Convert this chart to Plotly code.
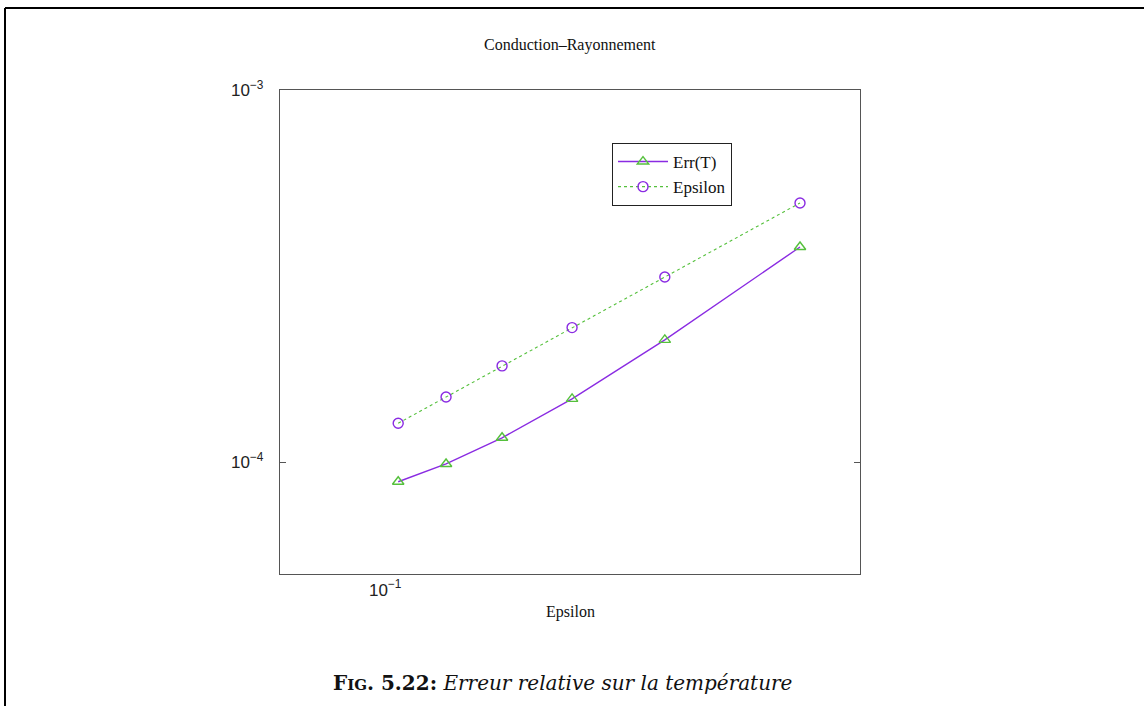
import plotly.graph_objects as go

# ---- data ----
epsilon = [0.1045, 0.1229, 0.1486, 0.1884, 0.258, 0.408]
err_T = [8.85e-5, 9.88e-5, 1.162e-4, 1.478e-4, 2.13e-4, 3.784e-4]
eps_curve = [1.271e-4, 1.496e-4, 1.813e-4, 2.298e-4, 3.142e-4, 4.97e-4]

x_tickvals = [0.1]
x_ticktext = ["10<sup>\u22121</sup>"]
y_tickvals = [1e-4, 1e-3]
y_ticktext = ["10<sup>\u22124</sup>", "10<sup>\u22123</sup>"]

title_text = "Conduction\u2013Rayonnement"
xlabel_text = "Epsilon"
caption_text = ("<b>F<span style='font-size:15px'>IG</span>. 5.22:</b> "
                "<i>Erreur relative sur la température</i>")

PURPLE = "#8a2be2"
GREEN = "#55c03c"
W, H = 1144, 706
L, R, T, B = 280, 284, 90, 132
pw, ph = W - L - R, H - T - B


def px(x):
    return (x - L) / pw


def py(y):
    return (H - B - y) / ph


fig = go.Figure()
fig.add_trace(go.Scatter(
    x=epsilon, y=err_T, name="Err(T)", mode="lines+markers",
    line=dict(color=PURPLE, width=1.4),
    marker=dict(symbol="triangle-up-open", size=10, color=GREEN,
                line=dict(color=GREEN, width=1.4)),
))
fig.add_trace(go.Scatter(
    x=epsilon, y=eps_curve, name="Epsilon", mode="lines+markers",
    line=dict(color=GREEN, width=1.1, dash="dot"),
    marker=dict(symbol="circle-open", size=10, color=PURPLE,
                line=dict(color=PURPLE, width=1.4)),
))

axis_common = dict(showline=True, mirror=True, linecolor="#555555", linewidth=1.3,
                   showgrid=False, zeroline=False,
                   tickfont=dict(family="Liberation Sans", size=17, color="#222222"))

fig.update_xaxes(type="log", range=[-1.1549, -0.30103], tickmode="array",
                 tickvals=x_tickvals, ticktext=x_ticktext, ticks="",
                 **axis_common)
fig.update_yaxes(type="log", range=[-4.30103, -3.0], tickmode="array",
                 tickvals=y_tickvals, ticktext=y_ticktext, ticks="inside",
                 ticklen=6, tickwidth=1.3, tickcolor="#555555",
                 ticklabelstandoff=12,
                 **{**axis_common, "mirror": "ticks"})

fig.update_layout(
    width=W, height=H,
    margin=dict(l=L, r=R, t=T, b=B, autoexpand=False),
    paper_bgcolor="white", plot_bgcolor="white",
    showlegend=True,
    legend=dict(x=px(612), y=py(143), xanchor="left", yanchor="top",
                bordercolor="#222222", borderwidth=1, bgcolor="white",
                font=dict(family="Liberation Serif", size=17, color="#111111"),
                tracegroupgap=0, itemwidth=50),
    annotations=[
        dict(text=title_text, x=px(570), y=py(45), xref="paper", yref="paper",
             showarrow=False, xanchor="center", yanchor="middle",
             font=dict(family="Liberation Serif", size=16, color="#111111")),
        dict(text=xlabel_text, x=px(570), y=py(612), xref="paper", yref="paper",
             showarrow=False, xanchor="center", yanchor="middle",
             font=dict(family="Liberation Serif", size=16, color="#111111")),
        dict(text=caption_text, x=px(562), y=py(683), xref="paper", yref="paper",
             showarrow=False, xanchor="center", yanchor="middle",
             font=dict(family="DejaVu Serif", size=20, color="#111111")),
    ],
    shapes=[
        dict(type="line", xref="paper", yref="paper",
             x0=px(5), x1=px(1150), y0=py(8), y1=py(8),
             line=dict(color="black", width=2)),
        dict(type="line", xref="paper", yref="paper",
             x0=px(5), x1=px(5), y0=py(8), y1=py(712),
             line=dict(color="black", width=2)),
    ],
)

fig.write_html("out.html",
               config={"displayModeBar": False},
               post_script="document.body.style.margin='0';"
                           "document.body.style.overflow='hidden';")
